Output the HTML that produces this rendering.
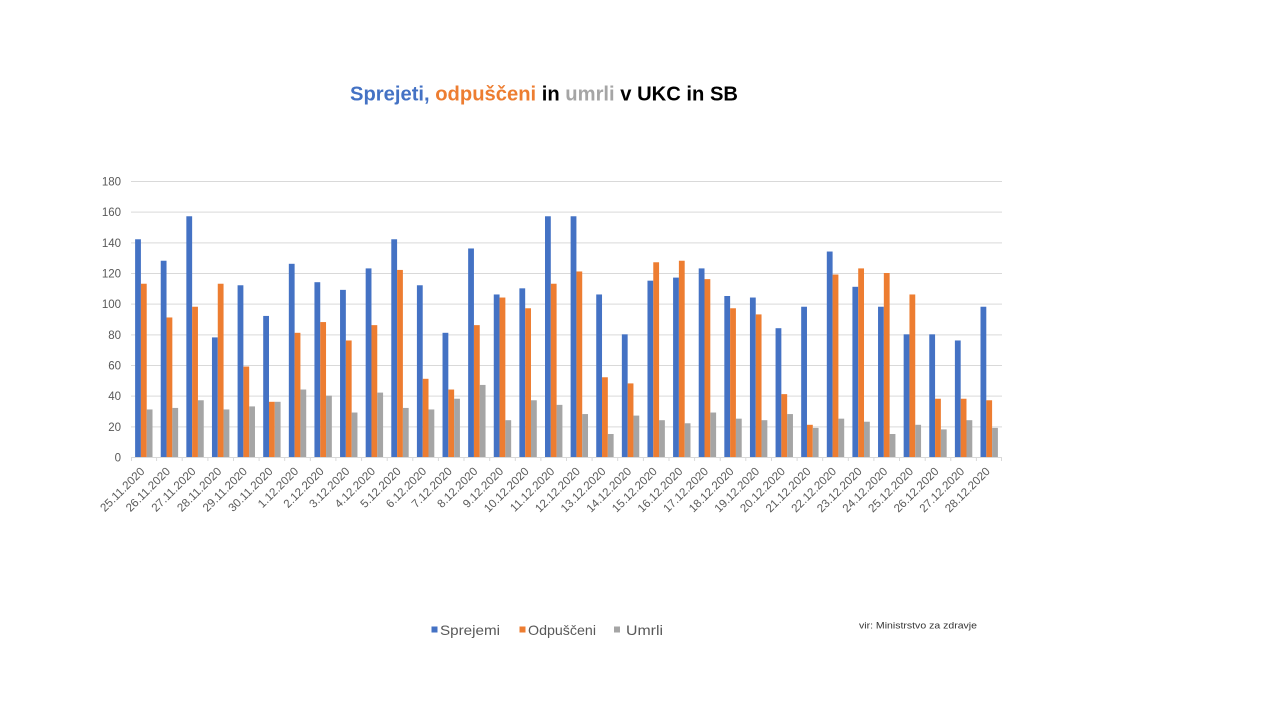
<!DOCTYPE html>
<html>
<head>
<meta charset="utf-8">
<style>
  html,body{margin:0;padding:0;background:#fff;}
  svg{display:block;}
  .b{fill:#4472C4}
  .o{fill:#ED7D31}
  .g{fill:#A5A5A5}
  .yl{font-family:"Liberation Sans",sans-serif;font-size:11.5px;fill:#595959;}
  .xl{font-family:"Liberation Sans",sans-serif;font-size:11.6px;fill:#595959;}
  .lg{font-family:"Liberation Sans",sans-serif;font-size:14px;fill:#595959;}
</style>
</head>
<body>
<svg width="1280" height="720" viewBox="0 0 1280 720" xmlns="http://www.w3.org/2000/svg">
  <rect width="1280" height="720" fill="#fff"/>

  <!-- Title -->
  <text x="350" y="100.5" textLength="388" lengthAdjust="spacingAndGlyphs" font-family="Liberation Sans, sans-serif" font-weight="bold" font-size="20px"><tspan fill="#4472C4">Sprejeti,</tspan><tspan fill="#ED7D31"> odpuščeni</tspan><tspan fill="#000"> in </tspan><tspan fill="#A5A5A5">umrli</tspan><tspan fill="#000"> v UKC in SB</tspan></text>

  <!-- Gridlines -->
  <g stroke="#D9D9D9" stroke-width="1">
    <line x1="131" y1="181.5" x2="1002" y2="181.5"/>
    <line x1="131" y1="212.17" x2="1002" y2="212.17"/>
    <line x1="131" y1="242.83" x2="1002" y2="242.83"/>
    <line x1="131" y1="273.5" x2="1002" y2="273.5"/>
    <line x1="131" y1="304.17" x2="1002" y2="304.17"/>
    <line x1="131" y1="334.83" x2="1002" y2="334.83"/>
    <line x1="131" y1="365.5" x2="1002" y2="365.5"/>
    <line x1="131" y1="396.17" x2="1002" y2="396.17"/>
    <line x1="131" y1="426.83" x2="1002" y2="426.83"/>
  </g>

  <!-- Y labels -->
  <g class="yl" text-anchor="end">
    <text x="121" y="185.5">180</text>
    <text x="121" y="216.2">160</text>
    <text x="121" y="246.8">140</text>
    <text x="121" y="277.5">120</text>
    <text x="121" y="308.2">100</text>
    <text x="121" y="338.8">80</text>
    <text x="121" y="369.5">60</text>
    <text x="121" y="400.2">40</text>
    <text x="121" y="430.8">20</text>
    <text x="121" y="461.5">0</text>
  </g>

  <!-- Bars -->
  <g transform="translate(0,457) scale(1,-1.533333)">
    <g transform="translate(143.81,0)"><rect class="b" x="-8.7" y="0" width="5.8" height="142"/><rect class="o" x="-2.9" y="0" width="5.8" height="113"/><rect class="g" x="2.9" y="0" width="5.8" height="31"/></g>
    <g transform="translate(169.43,0)"><rect class="b" x="-8.7" y="0" width="5.8" height="128"/><rect class="o" x="-2.9" y="0" width="5.8" height="91"/><rect class="g" x="2.9" y="0" width="5.8" height="32"/></g>
    <g transform="translate(195.04,0)"><rect class="b" x="-8.7" y="0" width="5.8" height="157"/><rect class="o" x="-2.9" y="0" width="5.8" height="98"/><rect class="g" x="2.9" y="0" width="5.8" height="37"/></g>
    <g transform="translate(220.66,0)"><rect class="b" x="-8.7" y="0" width="5.8" height="78"/><rect class="o" x="-2.9" y="0" width="5.8" height="113"/><rect class="g" x="2.9" y="0" width="5.8" height="31"/></g>
    <g transform="translate(246.28,0)"><rect class="b" x="-8.7" y="0" width="5.8" height="112"/><rect class="o" x="-2.9" y="0" width="5.8" height="59"/><rect class="g" x="2.9" y="0" width="5.8" height="33"/></g>
    <g transform="translate(271.90,0)"><rect class="b" x="-8.7" y="0" width="5.8" height="92"/><rect class="o" x="-2.9" y="0" width="5.8" height="36"/><rect class="g" x="2.9" y="0" width="5.8" height="36"/></g>
    <g transform="translate(297.52,0)"><rect class="b" x="-8.7" y="0" width="5.8" height="126"/><rect class="o" x="-2.9" y="0" width="5.8" height="81"/><rect class="g" x="2.9" y="0" width="5.8" height="44"/></g>
    <g transform="translate(323.14,0)"><rect class="b" x="-8.7" y="0" width="5.8" height="114"/><rect class="o" x="-2.9" y="0" width="5.8" height="88"/><rect class="g" x="2.9" y="0" width="5.8" height="40"/></g>
    <g transform="translate(348.75,0)"><rect class="b" x="-8.7" y="0" width="5.8" height="109"/><rect class="o" x="-2.9" y="0" width="5.8" height="76"/><rect class="g" x="2.9" y="0" width="5.8" height="29"/></g>
    <g transform="translate(374.37,0)"><rect class="b" x="-8.7" y="0" width="5.8" height="123"/><rect class="o" x="-2.9" y="0" width="5.8" height="86"/><rect class="g" x="2.9" y="0" width="5.8" height="42"/></g>
    <g transform="translate(399.99,0)"><rect class="b" x="-8.7" y="0" width="5.8" height="142"/><rect class="o" x="-2.9" y="0" width="5.8" height="122"/><rect class="g" x="2.9" y="0" width="5.8" height="32"/></g>
    <g transform="translate(425.61,0)"><rect class="b" x="-8.7" y="0" width="5.8" height="112"/><rect class="o" x="-2.9" y="0" width="5.8" height="51"/><rect class="g" x="2.9" y="0" width="5.8" height="31"/></g>
    <g transform="translate(451.23,0)"><rect class="b" x="-8.7" y="0" width="5.8" height="81"/><rect class="o" x="-2.9" y="0" width="5.8" height="44"/><rect class="g" x="2.9" y="0" width="5.8" height="38"/></g>
    <g transform="translate(476.84,0)"><rect class="b" x="-8.7" y="0" width="5.8" height="136"/><rect class="o" x="-2.9" y="0" width="5.8" height="86"/><rect class="g" x="2.9" y="0" width="5.8" height="47"/></g>
    <g transform="translate(502.46,0)"><rect class="b" x="-8.7" y="0" width="5.8" height="106"/><rect class="o" x="-2.9" y="0" width="5.8" height="104"/><rect class="g" x="2.9" y="0" width="5.8" height="24"/></g>
    <g transform="translate(528.08,0)"><rect class="b" x="-8.7" y="0" width="5.8" height="110"/><rect class="o" x="-2.9" y="0" width="5.8" height="97"/><rect class="g" x="2.9" y="0" width="5.8" height="37"/></g>
    <g transform="translate(553.70,0)"><rect class="b" x="-8.7" y="0" width="5.8" height="157"/><rect class="o" x="-2.9" y="0" width="5.8" height="113"/><rect class="g" x="2.9" y="0" width="5.8" height="34"/></g>
    <g transform="translate(579.32,0)"><rect class="b" x="-8.7" y="0" width="5.8" height="157"/><rect class="o" x="-2.9" y="0" width="5.8" height="121"/><rect class="g" x="2.9" y="0" width="5.8" height="28"/></g>
    <g transform="translate(604.93,0)"><rect class="b" x="-8.7" y="0" width="5.8" height="106"/><rect class="o" x="-2.9" y="0" width="5.8" height="52"/><rect class="g" x="2.9" y="0" width="5.8" height="15"/></g>
    <g transform="translate(630.55,0)"><rect class="b" x="-8.7" y="0" width="5.8" height="80"/><rect class="o" x="-2.9" y="0" width="5.8" height="48"/><rect class="g" x="2.9" y="0" width="5.8" height="27"/></g>
    <g transform="translate(656.17,0)"><rect class="b" x="-8.7" y="0" width="5.8" height="115"/><rect class="o" x="-2.9" y="0" width="5.8" height="127"/><rect class="g" x="2.9" y="0" width="5.8" height="24"/></g>
    <g transform="translate(681.79,0)"><rect class="b" x="-8.7" y="0" width="5.8" height="117"/><rect class="o" x="-2.9" y="0" width="5.8" height="128"/><rect class="g" x="2.9" y="0" width="5.8" height="22"/></g>
    <g transform="translate(707.41,0)"><rect class="b" x="-8.7" y="0" width="5.8" height="123"/><rect class="o" x="-2.9" y="0" width="5.8" height="116"/><rect class="g" x="2.9" y="0" width="5.8" height="29"/></g>
    <g transform="translate(733.02,0)"><rect class="b" x="-8.7" y="0" width="5.8" height="105"/><rect class="o" x="-2.9" y="0" width="5.8" height="97"/><rect class="g" x="2.9" y="0" width="5.8" height="25"/></g>
    <g transform="translate(758.64,0)"><rect class="b" x="-8.7" y="0" width="5.8" height="104"/><rect class="o" x="-2.9" y="0" width="5.8" height="93"/><rect class="g" x="2.9" y="0" width="5.8" height="24"/></g>
    <g transform="translate(784.26,0)"><rect class="b" x="-8.7" y="0" width="5.8" height="84"/><rect class="o" x="-2.9" y="0" width="5.8" height="41"/><rect class="g" x="2.9" y="0" width="5.8" height="28"/></g>
    <g transform="translate(809.88,0)"><rect class="b" x="-8.7" y="0" width="5.8" height="98"/><rect class="o" x="-2.9" y="0" width="5.8" height="21"/><rect class="g" x="2.9" y="0" width="5.8" height="19"/></g>
    <g transform="translate(835.50,0)"><rect class="b" x="-8.7" y="0" width="5.8" height="134"/><rect class="o" x="-2.9" y="0" width="5.8" height="119"/><rect class="g" x="2.9" y="0" width="5.8" height="25"/></g>
    <g transform="translate(861.11,0)"><rect class="b" x="-8.7" y="0" width="5.8" height="111"/><rect class="o" x="-2.9" y="0" width="5.8" height="123"/><rect class="g" x="2.9" y="0" width="5.8" height="23"/></g>
    <g transform="translate(886.73,0)"><rect class="b" x="-8.7" y="0" width="5.8" height="98"/><rect class="o" x="-2.9" y="0" width="5.8" height="120"/><rect class="g" x="2.9" y="0" width="5.8" height="15"/></g>
    <g transform="translate(912.35,0)"><rect class="b" x="-8.7" y="0" width="5.8" height="80"/><rect class="o" x="-2.9" y="0" width="5.8" height="106"/><rect class="g" x="2.9" y="0" width="5.8" height="21"/></g>
    <g transform="translate(937.97,0)"><rect class="b" x="-8.7" y="0" width="5.8" height="80"/><rect class="o" x="-2.9" y="0" width="5.8" height="38"/><rect class="g" x="2.9" y="0" width="5.8" height="18"/></g>
    <g transform="translate(963.59,0)"><rect class="b" x="-8.7" y="0" width="5.8" height="76"/><rect class="o" x="-2.9" y="0" width="5.8" height="38"/><rect class="g" x="2.9" y="0" width="5.8" height="24"/></g>
    <g transform="translate(989.20,0)"><rect class="b" x="-8.7" y="0" width="5.8" height="98"/><rect class="o" x="-2.9" y="0" width="5.8" height="37"/><rect class="g" x="2.9" y="0" width="5.8" height="19"/></g>
  </g>

  <!-- X axis line and ticks -->
  <g stroke="#D9D9D9" stroke-width="1">
    <line x1="131" y1="457.5" x2="1002" y2="457.5"/>
    <path d="M131.5 457v4 M156.6 457v4 M182.2 457v4 M207.9 457v4 M233.5 457v4 M259.1 457v4 M284.7 457v4 M310.3 457v4 M335.9 457v4 M361.6 457v4 M387.2 457v4 M412.8 457v4 M438.4 457v4 M464.0 457v4 M489.7 457v4 M515.3 457v4 M540.9 457v4 M566.5 457v4 M592.1 457v4 M617.7 457v4 M643.4 457v4 M669.0 457v4 M694.6 457v4 M720.2 457v4 M745.8 457v4 M771.5 457v4 M797.1 457v4 M822.7 457v4 M848.3 457v4 M873.9 457v4 M899.5 457v4 M925.2 457v4 M950.8 457v4 M976.4 457v4 M1001.5 457v4"/>
  </g>

  <!-- X labels -->
  <g class="xl" text-anchor="end">
    <text transform="translate(145.3,472) rotate(-45)">25.11.2020</text>
    <text transform="translate(170.9,472) rotate(-45)">26.11.2020</text>
    <text transform="translate(196.5,472) rotate(-45)">27.11.2020</text>
    <text transform="translate(222.2,472) rotate(-45)">28.11.2020</text>
    <text transform="translate(247.8,472) rotate(-45)">29.11.2020</text>
    <text transform="translate(273.4,472) rotate(-45)">30.11.2020</text>
    <text transform="translate(299.0,472) rotate(-45)">1.12.2020</text>
    <text transform="translate(324.6,472) rotate(-45)">2.12.2020</text>
    <text transform="translate(350.3,472) rotate(-45)">3.12.2020</text>
    <text transform="translate(375.9,472) rotate(-45)">4.12.2020</text>
    <text transform="translate(401.5,472) rotate(-45)">5.12.2020</text>
    <text transform="translate(427.1,472) rotate(-45)">6.12.2020</text>
    <text transform="translate(452.7,472) rotate(-45)">7.12.2020</text>
    <text transform="translate(478.3,472) rotate(-45)">8.12.2020</text>
    <text transform="translate(504.0,472) rotate(-45)">9.12.2020</text>
    <text transform="translate(529.6,472) rotate(-45)">10.12.2020</text>
    <text transform="translate(555.2,472) rotate(-45)">11.12.2020</text>
    <text transform="translate(580.8,472) rotate(-45)">12.12.2020</text>
    <text transform="translate(606.4,472) rotate(-45)">13.12.2020</text>
    <text transform="translate(632.1,472) rotate(-45)">14.12.2020</text>
    <text transform="translate(657.7,472) rotate(-45)">15.12.2020</text>
    <text transform="translate(683.3,472) rotate(-45)">16.12.2020</text>
    <text transform="translate(708.9,472) rotate(-45)">17.12.2020</text>
    <text transform="translate(734.5,472) rotate(-45)">18.12.2020</text>
    <text transform="translate(760.1,472) rotate(-45)">19.12.2020</text>
    <text transform="translate(785.8,472) rotate(-45)">20.12.2020</text>
    <text transform="translate(811.4,472) rotate(-45)">21.12.2020</text>
    <text transform="translate(837.0,472) rotate(-45)">22.12.2020</text>
    <text transform="translate(862.6,472) rotate(-45)">23.12.2020</text>
    <text transform="translate(888.2,472) rotate(-45)">24.12.2020</text>
    <text transform="translate(913.9,472) rotate(-45)">25.12.2020</text>
    <text transform="translate(939.5,472) rotate(-45)">26.12.2020</text>
    <text transform="translate(965.1,472) rotate(-45)">27.12.2020</text>
    <text transform="translate(990.7,472) rotate(-45)">28.12.2020</text>
  </g>

  <!-- Legend -->
  <rect class="b" x="431.5" y="626.5" width="6" height="6"/>
  <text class="lg" x="440" y="635" textLength="60" lengthAdjust="spacingAndGlyphs">Sprejemi</text>
  <rect class="o" x="519.5" y="626.5" width="6" height="6"/>
  <text class="lg" x="528" y="635" textLength="68" lengthAdjust="spacingAndGlyphs">Odpuščeni</text>
  <rect class="g" x="614" y="626.5" width="6" height="6"/>
  <text class="lg" x="626" y="635" textLength="37" lengthAdjust="spacingAndGlyphs">Umrli</text>

  <!-- Source -->
  <text x="859" y="628.5" textLength="118" lengthAdjust="spacingAndGlyphs" font-family="Liberation Sans, sans-serif" font-size="9.5px" fill="#333">vir: Ministrstvo za zdravje</text>
</svg>
</body>
</html>
